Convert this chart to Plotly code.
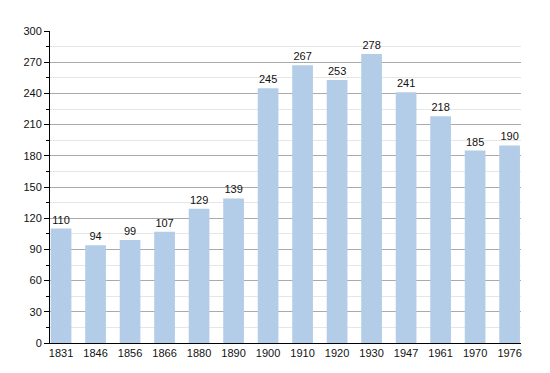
import plotly.graph_objects as go

years = ["1831", "1846", "1856", "1866", "1880", "1890", "1900", "1910", "1920", "1930", "1947", "1961", "1970", "1976"]
population = [110, 94, 99, 107, 129, 139, 245, 267, 253, 278, 241, 218, 185, 190]
y_ticks = list(range(0, 301, 30))

fig = go.Figure()
fig.add_trace(go.Bar(
    x=list(range(len(years))), y=population,
    marker=dict(color="#b3cce8", line=dict(width=0)),
    width=0.6,
    text=[str(v) for v in population], textposition="outside",
    textfont=dict(family="Liberation Sans, Arial", size=11, color="#111"),
    cliponaxis=False,
))
fig.update_layout(
    width=550, height=373,
    margin=dict(l=42, r=37, t=23, b=38),
    paper_bgcolor="white", plot_bgcolor="white",
    showlegend=False,
    font=dict(family="Liberation Sans, Arial", size=11, color="#111"),
    xaxis=dict(
        tickmode="array", tickvals=list(range(len(years))), ticktext=years,
        range=[-0.32, 13.33], showgrid=False, showline=True, linecolor="black",
        linewidth=1, ticks="", zeroline=False,
    ),
    yaxis=dict(
        range=[0, 300], tickvals=y_ticks, showgrid=True, gridcolor="#aaaaaa",
        gridwidth=1, showline=True, linecolor="black", linewidth=1,
        ticks="outside", ticklen=5, tickcolor="black", zeroline=False,
        minor=dict(dtick=15, showgrid=True, gridcolor="#e6e6e6", ticks="outside", ticklen=3, tickcolor="black"),
    ),
)
fig.write_html("out.html")
